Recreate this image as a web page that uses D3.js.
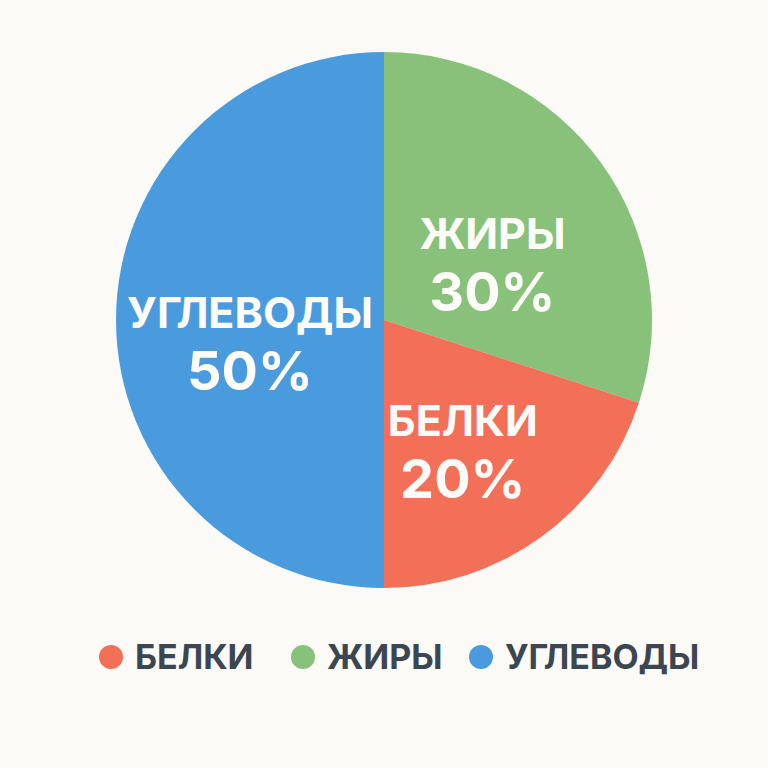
<!DOCTYPE html>
<html>
<head>
<meta charset="utf-8">
<script src="https://cdn.jsdelivr.net/npm/d3@7"></script>
<style>
  html, body { margin: 0; padding: 0; background: #fbfaf6; }
  svg { display: block; font-family: Inter, "Open Sans", "DejaVu Sans", sans-serif; }
</style>
</head>
<body>
<svg id="chart"></svg>
<script>
// chart data
const categories = ['ЖИРЫ', 'БЕЛКИ', 'УГЛЕВОДЫ'];
const values = [30, 20, 50];
const colors = ['#88c17a', '#f26f58', '#4a9bdd'];
const legendOrder = ['БЕЛКИ', 'ЖИРЫ', 'УГЛЕВОДЫ'];

const width = 768, height = 768;
const cx = 384, cy = 320, radius = 268;

let svg = d3.select('#chart')
  .attr('width', width)
  .attr('height', height);

svg.append('rect')
  .attr('width', width)
  .attr('height', height)
  .attr('fill', '#fbfaf6');

let data = categories.map((c, i) => ({ name: c, value: values[i], color: colors[i] }));

let pie = d3.pie()
  .sort(null)
  .value(d => d.value);

let arc = d3.arc()
  .innerRadius(0)
  .outerRadius(radius);

let labelArc = d3.arc()
  .innerRadius(radius * 0.5)
  .outerRadius(radius * 0.5);

let g = svg.append('g')
  .attr('transform', `translate(${cx},${cy})`);

let arcs = pie(data);

g.selectAll('.slice')
  .data(arcs)
  .enter()
  .append('path')
  .attr('class', 'slice')
  .attr('d', arc)
  .attr('fill', d => d.data.color);

// labels inside slices
let labels = g.selectAll('.label')
  .data(arcs)
  .enter()
  .append('g')
  .attr('class', 'label')
  .attr('transform', d => `translate(${labelArc.centroid(d)})`);

labels.append('text')
  .attr('text-anchor', 'middle')
  .attr('y', 8)
  .attr('fill', '#fdfcf8')
  .style('font-size', '43px')
  .style('font-weight', 700)
  .text(d => d.data.name);

labels.append('text')
  .attr('text-anchor', 'middle')
  .attr('y', 70)
  .attr('fill', '#fdfcf8')
  .style('font-size', '54px')
  .style('font-weight', 700)
  .text(d => d.data.value + '%');

// legend, spacing is not even in the picture, so offsets per item
const legendPos = [111, 303, 481];

let legend = svg.append('g')
  .attr('transform', 'translate(0,657)');

let item = legend.selectAll('.item')
  .data(legendOrder)
  .enter()
  .append('g')
  .attr('class', 'item')
  .attr('transform', (d, i) => `translate(${legendPos[i]},0)`);

item.append('circle')
  .attr('r', 12)
  .attr('fill', d => colors[categories.indexOf(d)]);

item.append('text')
  .attr('x', 24)
  .attr('dy', '0.36em')
  .attr('fill', '#3b4650')
  .style('font-size', '34px')
  .style('font-weight', 700)
  .text(d => d);
</script>
</body>
</html>
